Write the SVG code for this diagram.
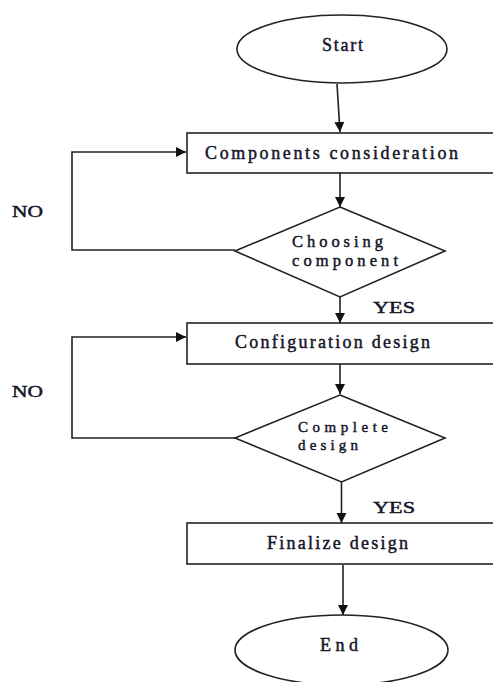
<svg xmlns="http://www.w3.org/2000/svg" width="493" height="682" viewBox="0 0 493 682">
<style>
.shape{fill:#fff;stroke:#222;stroke-width:1.6}
.conn{fill:none;stroke:#222;stroke-width:1.6}
text{font-family:"Liberation Serif","Times New Roman",serif;font-size:18px;fill:#141428;stroke:#141428;stroke-width:0.45}
.dt{font-size:16.5px}
.sm{font-size:15px}
</style>
<defs>
<marker id="arr" markerUnits="userSpaceOnUse" markerWidth="11" markerHeight="11" refX="10" refY="5" orient="auto">
<path d="M0,0 L10,5 L0,10 z" fill="#111"/>
</marker>
</defs>
<rect width="493" height="682" fill="#fff"/>
<g id="connectors">
<line class="conn" x1="337" y1="84" x2="340" y2="132" marker-end="url(#arr)"/>
<line class="conn" x1="340" y1="173" x2="340" y2="207" marker-end="url(#arr)"/>
<line class="conn" x1="340" y1="297" x2="340" y2="323" marker-end="url(#arr)"/>
<line class="conn" x1="340" y1="364" x2="340" y2="394" marker-end="url(#arr)"/>
<line class="conn" x1="341.5" y1="482" x2="341.5" y2="523" marker-end="url(#arr)"/>
<line class="conn" x1="343" y1="565" x2="343" y2="615" marker-end="url(#arr)"/>
<path class="conn" d="M235,250 H72 V152 H186" marker-end="url(#arr)"/>
<path class="conn" d="M235,438 H72 V337 H186" marker-end="url(#arr)"/>
<text class="dt" x="12" y="217" textLength="31" lengthAdjust="spacingAndGlyphs">NO</text>
<text class="dt" x="12" y="397" textLength="31" lengthAdjust="spacingAndGlyphs">NO</text>
<text class="dt" x="373" y="313" textLength="42" lengthAdjust="spacingAndGlyphs">YES</text>
<text class="dt" x="373" y="513" textLength="42" lengthAdjust="spacingAndGlyphs">YES</text>
</g>
<g id="start">
<ellipse class="shape" cx="342" cy="49" rx="105" ry="34"/>
<text x="322" y="51" textLength="41" lengthAdjust="spacing">Start</text>
</g>
<g id="components">
<rect class="shape" x="187" y="133" width="320" height="40"/>
<text x="205" y="159" textLength="253" lengthAdjust="spacing">Components consideration</text>
</g>
<g id="choosing">
<polygon class="shape" points="340,207 445,251 340,297 235,251"/>
<text class="dt" x="292" y="247" textLength="91" lengthAdjust="spacing">Choosing</text>
<text class="dt" x="292" y="266" textLength="106" lengthAdjust="spacing">component</text>
</g>
<g id="configuration">
<rect class="shape" x="187" y="323" width="320" height="41"/>
<text x="235" y="348" textLength="195" lengthAdjust="spacing">Configuration design</text>
</g>
<g id="complete">
<polygon class="shape" points="340,395 445,438 341.5,482 235,438"/>
<text class="dt sm" x="298" y="432" textLength="90" lengthAdjust="spacing">Complete</text>
<text class="dt sm" x="298" y="450" textLength="60" lengthAdjust="spacing">design</text>
</g>
<g id="finalize">
<rect class="shape" x="187" y="523" width="320" height="41"/>
<text x="267" y="549" textLength="141" lengthAdjust="spacing">Finalize design</text>
</g>
<g id="end">
<ellipse class="shape" cx="341.5" cy="650" rx="106.5" ry="35"/>
<text x="320" y="651" textLength="38" lengthAdjust="spacing">End</text>
</g>
</svg>
